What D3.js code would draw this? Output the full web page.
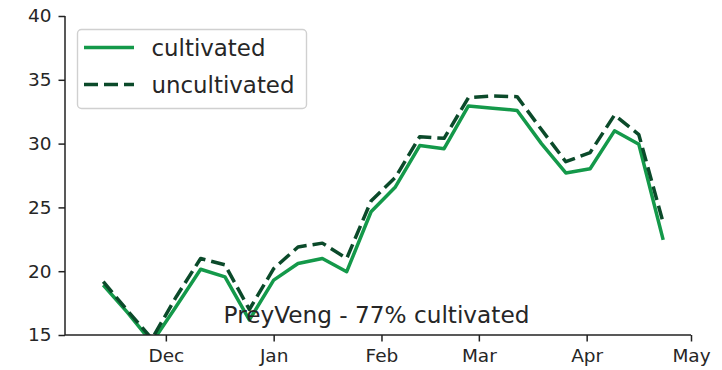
<!DOCTYPE html>
<html>
<head>
<meta charset="utf-8">
<script src="https://cdn.jsdelivr.net/npm/d3@7"></script>
<style>
  html, body { margin: 0; padding: 0; background: #fff; }
  svg { display: block; font-family: "DejaVu Sans", sans-serif; }
</style>
</head>
<body>
<svg id="chart" width="722" height="370"></svg>
<script>
// Weekly observation dates
const dates = [
  "2017-11-13", "2017-11-20", "2017-11-27", "2017-12-04", "2017-12-11", "2017-12-18",
  "2017-12-25", "2018-01-01", "2018-01-08", "2018-01-15", "2018-01-22", "2018-01-29",
  "2018-02-05", "2018-02-12", "2018-02-19", "2018-02-26", "2018-03-05", "2018-03-12",
  "2018-03-19", "2018-03-26", "2018-04-02", "2018-04-09", "2018-04-16", "2018-04-23"
];
const cultivated = [
  18.92, 16.75, 14.4, 17.26, 20.15, 19.55, 16.18, 19.3, 20.6, 21.0, 19.96, 24.66,
  26.6, 29.85, 29.6, 32.95, 32.77, 32.6, 30.0, 27.7, 28.03, 31.0, 29.95, 22.45
];
const uncultivated = [
  19.18, 16.9, 14.7, 18.0, 21.0, 20.5, 17.0, 20.2, 21.9, 22.2, 21.0, 25.5,
  27.35, 30.54, 30.41, 33.6, 33.73, 33.68, 31.1, 28.58, 29.3, 32.24, 30.7, 23.8
];
const monthTicks = ["2017-12-01", "2018-01-01", "2018-02-01", "2018-03-01", "2018-04-01", "2018-05-01"];
const monthLabels = ["Dec", "Jan", "Feb", "Mar", "Apr", "May"];
const yTicks = [15, 20, 25, 30, 35, 40];
const xLimits = ["2017-11-02", "2018-05-01"];
const yLimits = [15, 40];
const seriesNames = ["cultivated", "uncultivated"];
const annotation = "PreyVeng - 77% cultivated";

const parse = d3.utcParse("%Y-%m-%d");
const svg = d3.select("#chart");

const plotLeft = 65, plotRight = 691, plotTop = 16, plotBottom = 335;
const textColor = "#262626";
const colCult = "#14994a";
const colUncult = "#0b4a2a";

const x = d3.scaleUtc().domain(xLimits.map(parse)).range([plotLeft, plotRight]);
const y = d3.scaleLinear().domain(yLimits).range([plotBottom, plotTop]);

// clip region for the plot area
svg.append("defs").append("clipPath").attr("id", "plotClip")
  .append("rect").attr("x", plotLeft).attr("y", plotTop)
  .attr("width", plotRight - plotLeft).attr("height", plotBottom - plotTop);

const rowsC = dates.map((d, i) => ({ date: parse(d), v: cultivated[i] }));
const rowsU = dates.map((d, i) => ({ date: parse(d), v: uncultivated[i] }));
const line = d3.line().x(d => x(d.date)).y(d => y(d.v));

const plot = svg.append("g").attr("clip-path", "url(#plotClip)");
plot.append("path").datum(rowsC)
  .attr("d", line).attr("fill", "none")
  .attr("stroke", colCult).attr("stroke-width", 3.5)
  .attr("stroke-linejoin", "round");
plot.append("path").datum(rowsU)
  .attr("d", line).attr("fill", "none")
  .attr("stroke", colUncult).attr("stroke-width", 3.5)
  .attr("stroke-dasharray", "14,6")
  .attr("stroke-linejoin", "round");

// axes
const yAxis = d3.axisLeft(y).tickValues(yTicks).tickSize(6.5).tickPadding(7)
  .tickFormat(d3.format("d"));
const xAxis = d3.axisBottom(x).tickValues(monthTicks.map(parse)).tickSize(6.5).tickPadding(7.5)
  .tickFormat((d, i) => monthLabels[i]);

const gy = svg.append("g").attr("transform", `translate(${plotLeft},0)`).call(yAxis);
const gx = svg.append("g").attr("transform", `translate(0,${plotBottom})`).call(xAxis);
[gx, gy].forEach(g => {
  g.select(".domain").attr("stroke", "#222").attr("stroke-width", 1.5);
  g.selectAll(".tick line").attr("stroke", "#222").attr("stroke-width", 1.5);
  g.selectAll(".tick text").attr("fill", textColor)
    .style("font-size", "18.5px").style("font-family", "DejaVu Sans");
});
// spines drawn exactly over the plot extent
gy.select(".domain").attr("d", `M0,${plotTop}V${plotBottom}`);
gx.select(".domain").attr("d", `M${plotLeft},0H${plotRight}`);

// annotation text
svg.append("text")
  .attr("x", 376.5).attr("y", 323)
  .attr("text-anchor", "middle")
  .attr("fill", textColor)
  .style("font-size", "23.2px")
  .text(annotation);

// legend
const lg = svg.append("g");
lg.append("rect")
  .attr("x", 77.5).attr("y", 29.5).attr("width", 229).attr("height", 79)
  .attr("rx", 4).attr("ry", 4)
  .attr("fill", "#fff").attr("fill-opacity", 0.85)
  .attr("stroke", "#d0d0d0").attr("stroke-width", 1.4);
const legendRows = [
  { name: seriesNames[0], color: colCult, dash: null, cy: 47.5 },
  { name: seriesNames[1], color: colUncult, dash: "14,6", cy: 84.5 }
];
legendRows.forEach(r => {
  lg.append("line")
    .attr("x1", 84).attr("x2", 134).attr("y1", r.cy).attr("y2", r.cy)
    .attr("stroke", r.color).attr("stroke-width", 3.5)
    .attr("stroke-dasharray", r.dash);
  lg.append("text")
    .attr("x", 151.5).attr("y", r.cy + 8)
    .attr("fill", textColor)
    .style("font-size", "22.9px")
    .text(r.name);
});
</script>
</body>
</html>
